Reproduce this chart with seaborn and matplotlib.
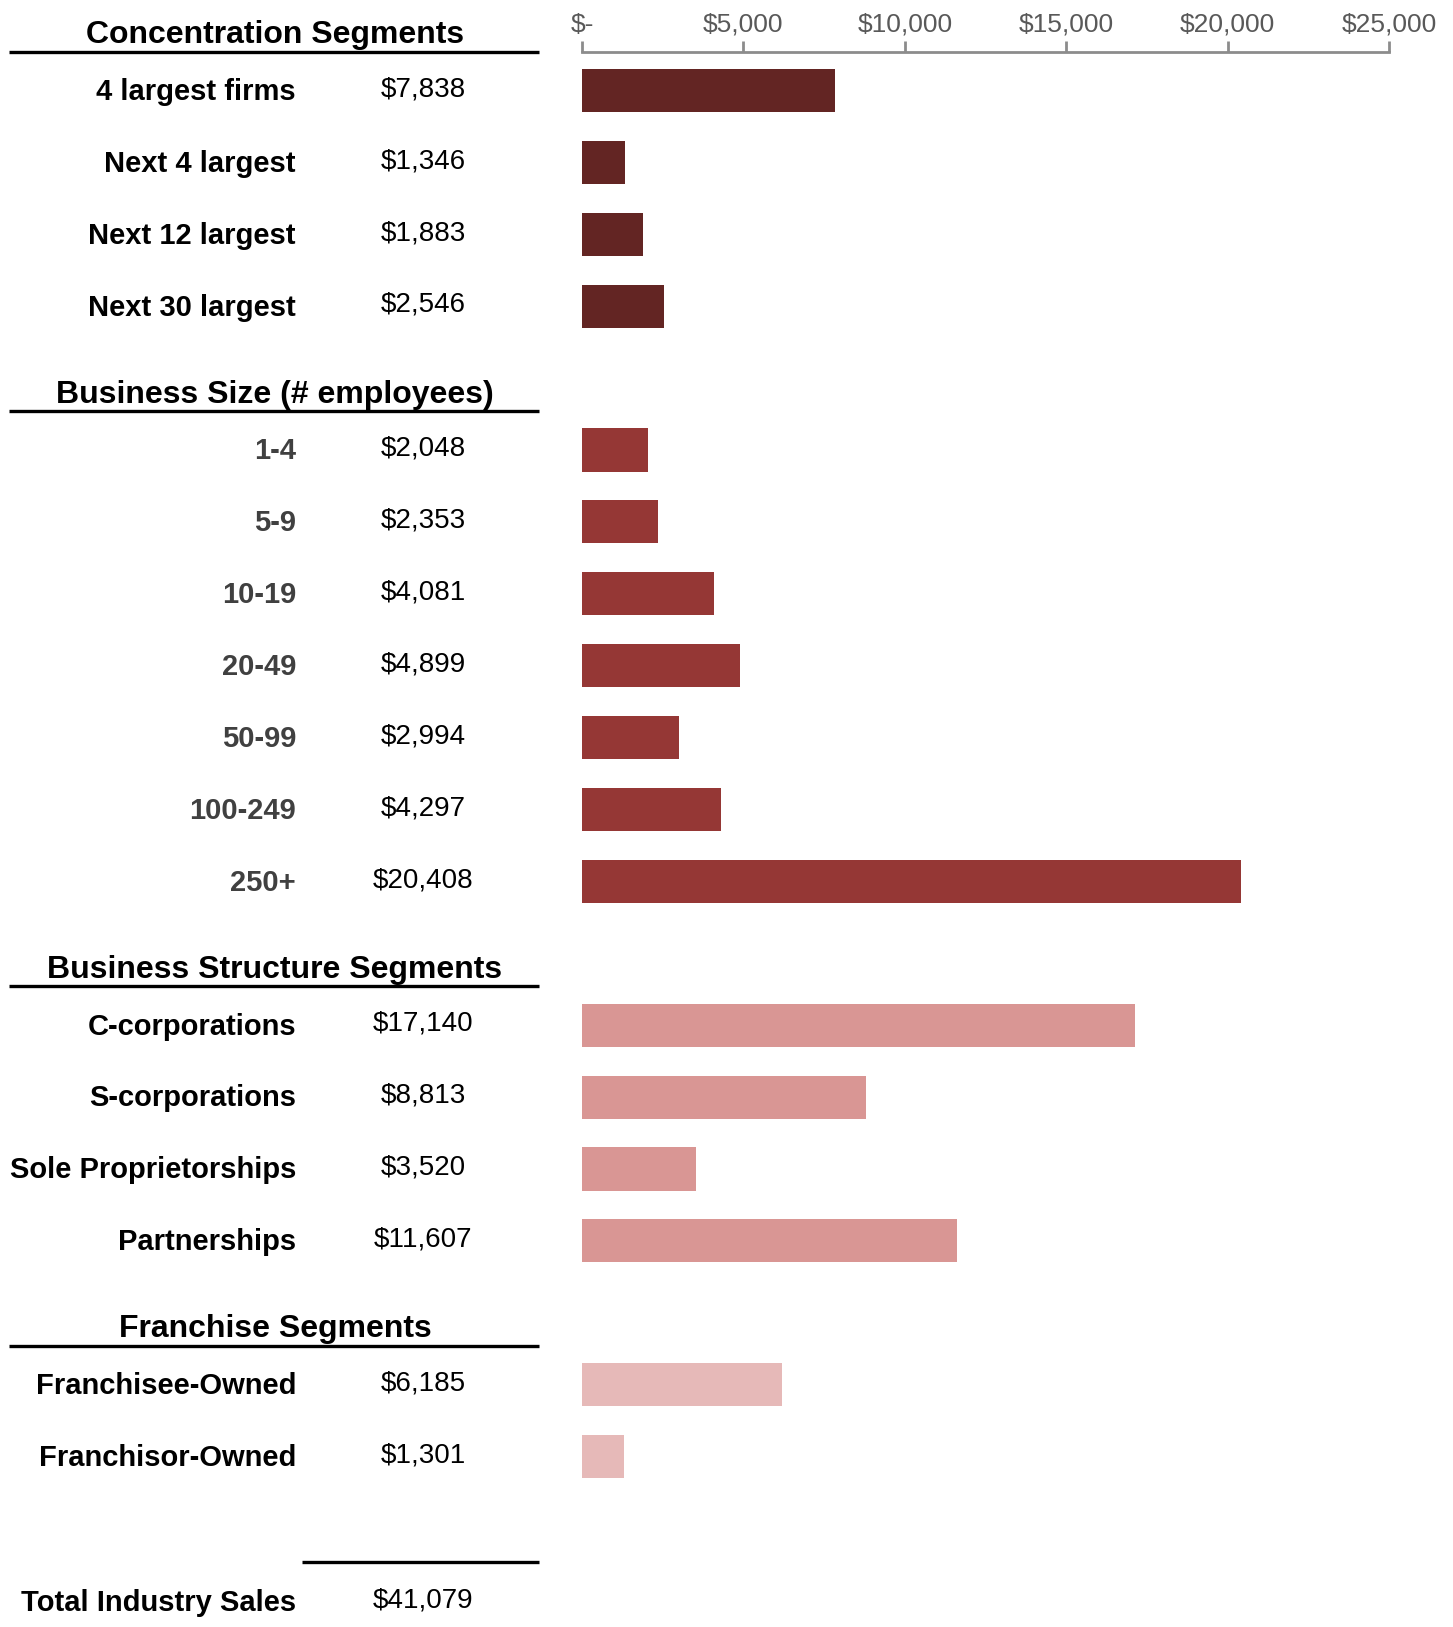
import pandas as pd
import seaborn as sns
import matplotlib.pyplot as plt
import matplotlib.transforms as mtransforms

# --- DATA ---
conc_labels = ["4 largest firms", "Next 4 largest", "Next 12 largest", "Next 30 largest"]
conc_values = [7838, 1346, 1883, 2546]

size_labels = ["1-4", "5-9", "10-19", "20-49", "50-99", "100-249", "250+"]
size_values = [2048, 2353, 4081, 4899, 2994, 4297, 20408]

struct_labels = ["C-corporations", "S-corporations", "Sole Proprietorships", "Partnerships"]
struct_values = [17140, 8813, 3520, 11607]

fran_labels = ["Franchisee-Owned", "Franchisor-Owned"]
fran_values = [6185, 1301]

group_titles = ["Concentration Segments", "Business Size (# employees)",
                "Business Structure Segments", "Franchise Segments"]
group_colors = ["#632523", "#953735", "#D99694", "#E6B9B8"]
label_colors = ["black", "#404040", "black", "black"]

total_label = "Total Industry Sales"
total_value = 41079

xticks = [0, 5000, 10000, 15000, 20000, 25000]

# --- BUILD TABLE (one slot per row, header takes one slot) ---
groups = [(conc_labels, conc_values), (size_labels, size_values),
          (struct_labels, struct_values), (fran_labels, fran_values)]
rows = []
headers = []
pos = 0
for gi, (labels, values) in enumerate(groups):
    if gi > 0:
        pos += 1
    headers.append(pos)
    for lab, val in zip(labels, values):
        rows.append({"label": lab, "value": val, "pos": pos, "group": group_titles[gi]})
        pos += 1
total_pos = pos + 1
df = pd.DataFrame(rows)

# --- STYLE ---
sns.set_theme(style="white")
plt.rcParams["font.family"] = ["Liberation Sans", "DejaVu Sans"]

W, H = 1453, 1627
fig = plt.figure(figsize=(W / 100, H / 100), dpi=100)
ax = fig.add_axes([582 / W, 0, (1389 - 582) / W, 1 - 52 / H])

sns.barplot(data=df, x="value", y="pos", hue="group", orient="h",
            palette=dict(zip(group_titles, group_colors)), native_scale=True,
            dodge=False, legend=False, width=0.6, errorbar=None,
            saturation=1, linewidth=0, ax=ax)

ax.set_xlim(0, 25000)
ax.set_ylim(21.37, -0.535)
ax.set_xticks(xticks)
ax.set_xticklabels(["$-" if t == 0 else f"${t:,}" for t in xticks])
ax.xaxis.tick_top()
ax.set_yticks([])
ax.set_xlabel("")
ax.set_ylabel("")
for s in ["left", "right", "bottom"]:
    ax.spines[s].set_visible(False)
ax.spines["top"].set_color("#8c8c8c")
ax.spines["top"].set_linewidth(2)
ax.tick_params(axis="x", direction="out", length=8, width=2, color="#8c8c8c",
               labelsize=19, labelcolor="#595959", pad=3)

# --- LEFT TABLE ---
tr = mtransforms.blended_transform_factory(fig.transFigure, ax.transData)
label_x = 296 / W
value_x = 423 / W
head_x = 275 / W
line_x0, line_x1 = 9 / W, 539 / W

for gi, hpos in enumerate(headers):
    ax.text(head_x, hpos - 0.66, group_titles[gi], transform=tr, ha="center",
            va="baseline", fontsize=23, fontweight="bold", color="black", clip_on=False)
    ax.plot([line_x0, line_x1], [hpos - 0.54, hpos - 0.54], transform=tr,
            color="black", lw=2.4, clip_on=False, solid_capstyle="butt")

gcolor = dict(zip(group_titles, label_colors))
for _, r in df.iterrows():
    ax.text(label_x, r["pos"] + 0.13, r["label"], transform=tr, ha="right",
            va="baseline", fontsize=21, fontweight="bold", color=gcolor[r["group"]],
            clip_on=False)
    ax.text(value_x, r["pos"] + 0.08, f"${r['value']:,}", transform=tr, ha="center",
            va="baseline", fontsize=20, color="black", clip_on=False)

ax.plot([302 / W, line_x1], [total_pos - 0.54, total_pos - 0.54], transform=tr,
        color="black", lw=2.4, clip_on=False, solid_capstyle="butt")
ax.text(label_x, total_pos + 0.15, total_label, transform=tr, ha="right",
        va="baseline", fontsize=21, fontweight="bold", color="black", clip_on=False)
ax.text(value_x, total_pos + 0.1, f"${total_value:,}", transform=tr, ha="center",
        va="baseline", fontsize=20, color="black", clip_on=False)

fig.savefig("out.png", dpi=100)
